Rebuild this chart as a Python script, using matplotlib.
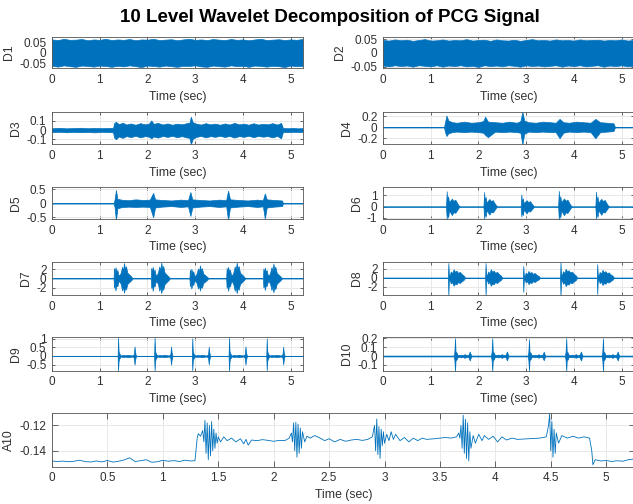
import numpy as np
import matplotlib
matplotlib.use('Agg')
import matplotlib.pyplot as plt

plt.rcParams['font.family'] = ['Liberation Sans', 'DejaVu Sans']

BLUE = '#0072BD'
T_END = 5.26

# --- D1, D2: envelope of the finest details (uniform over the record) ---
d1_hi = [0.064, 0.061, 0.067, 0.062, 0.063, 0.066, 0.060, 0.064, 0.062, 0.067,
         0.061, 0.064, 0.062, 0.066, 0.060, 0.064, 0.063, 0.067, 0.061, 0.063,
         0.065, 0.060, 0.064, 0.067, 0.062, 0.064, 0.061, 0.066, 0.063, 0.061,
         0.066, 0.062, 0.064, 0.060, 0.064, 0.067, 0.061, 0.063, 0.065, 0.061,
         0.064, 0.062, 0.066]
d1_lo = [-0.062, -0.066, -0.060, -0.064, -0.067, -0.061, -0.063, -0.066, -0.061, -0.063,
         -0.067, -0.062, -0.065, -0.060, -0.064, -0.068, -0.061, -0.063, -0.066, -0.061,
         -0.064, -0.067, -0.062, -0.063, -0.060, -0.065, -0.067, -0.061, -0.064, -0.066,
         -0.060, -0.064, -0.062, -0.067, -0.061, -0.063, -0.066, -0.062, -0.064, -0.068,
         -0.061, -0.064, -0.063]
d2_hi = [0.047, 0.045, 0.049, 0.046, 0.048, 0.044, 0.047, 0.050, 0.045, 0.046,
         0.049, 0.045, 0.047, 0.046, 0.050, 0.045, 0.047, 0.048, 0.044, 0.049,
         0.046, 0.045, 0.048, 0.044, 0.047, 0.050, 0.046, 0.047, 0.045, 0.049,
         0.046, 0.047, 0.045, 0.049, 0.046, 0.047, 0.048, 0.045, 0.047, 0.046,
         0.049, 0.045, 0.047]
d2_lo = [-0.046, -0.049, -0.045, -0.048, -0.046, -0.050, -0.045, -0.047, -0.049, -0.045,
         -0.050, -0.046, -0.048, -0.045, -0.049, -0.047, -0.051, -0.045, -0.048, -0.046,
         -0.049, -0.045, -0.047, -0.050, -0.045, -0.048, -0.046, -0.049, -0.047, -0.045,
         -0.050, -0.046, -0.048, -0.045, -0.049, -0.047, -0.045, -0.050, -0.046, -0.048,
         -0.045, -0.049, -0.047]

# --- D3, D4, D5: continuous activity between 1.3 s and 4.83 s ---
d3_t = [0, 0.15, 0.3, 0.45, 0.6, 0.75, 0.9, 1.05, 1.2, 1.28,
        1.30, 1.34, 1.40, 1.48, 1.56, 1.65, 1.75, 1.85, 1.95, 2.03,
        2.08, 2.13, 2.22, 2.32, 2.42, 2.52, 2.62, 2.72, 2.82, 2.88,
        2.91, 2.95, 3.02, 3.12, 3.22, 3.32, 3.42, 3.52, 3.62, 3.72,
        3.82, 3.92, 4.02, 4.12, 4.22, 4.32, 4.42, 4.52, 4.62, 4.72,
        4.80, 4.84, 4.95, 5.05, 5.15, 5.25]
d3_hi = [0.020, 0.024, 0.019, 0.022, 0.025, 0.020, 0.023, 0.021, 0.024, 0.022,
         0.075, 0.090, 0.065, 0.080, 0.060, 0.072, 0.058, 0.075, 0.062, 0.070,
         0.105, 0.068, 0.078, 0.060, 0.072, 0.058, 0.070, 0.062, 0.075, 0.080,
         0.145, 0.085, 0.070, 0.060, 0.075, 0.062, 0.070, 0.058, 0.072, 0.060,
         0.078, 0.062, 0.070, 0.058, 0.074, 0.060, 0.068, 0.062, 0.075, 0.060,
         0.078, 0.022, 0.020, 0.024, 0.019, 0.021]
d3_lo = [-0.022, -0.019, -0.024, -0.020, -0.023, -0.021, -0.025, -0.019, -0.022, -0.024,
         -0.080, -0.100, -0.070, -0.085, -0.065, -0.078, -0.062, -0.080, -0.066, -0.072,
         -0.090, -0.070, -0.082, -0.064, -0.075, -0.062, -0.078, -0.066, -0.080, -0.085,
         -0.155, -0.095, -0.075, -0.064, -0.080, -0.066, -0.074, -0.062, -0.076, -0.064,
         -0.082, -0.066, -0.074, -0.062, -0.078, -0.064, -0.072, -0.066, -0.080, -0.064,
         -0.090, -0.020, -0.023, -0.019, -0.022, -0.020]

d4_t = [0, 0.5, 1.0, 1.28, 1.30, 1.33, 1.37, 1.45, 1.55, 1.7,
        1.85, 2.0, 2.1, 2.14, 2.2, 2.35, 2.5, 2.65, 2.8, 2.88,
        2.92, 2.96, 3.05, 3.2, 3.35, 3.5, 3.62, 3.7, 3.78, 3.9,
        4.05, 4.2, 4.35, 4.45, 4.55, 4.7, 4.83, 4.86, 5.0, 5.25]
d4_hi = [0.006, 0.006, 0.006, 0.006, 0.09, 0.21, 0.12, 0.09, 0.08, 0.10,
         0.08, 0.09, 0.11, 0.19, 0.10, 0.09, 0.08, 0.10, 0.08, 0.11,
         0.28, 0.12, 0.09, 0.08, 0.10, 0.09, 0.08, 0.15, 0.09, 0.08,
         0.10, 0.09, 0.08, 0.15, 0.09, 0.08, 0.07, 0.006, 0.006, 0.006]
d4_lo = [-0.006, -0.006, -0.006, -0.006, -0.09, -0.16, -0.11, -0.09, -0.08, -0.09,
         -0.08, -0.09, -0.10, -0.14, -0.18, -0.08, -0.09, -0.08, -0.09, -0.10,
         -0.31, -0.12, -0.08, -0.09, -0.08, -0.09, -0.09, -0.20, -0.10, -0.08,
         -0.09, -0.08, -0.09, -0.20, -0.09, -0.08, -0.07, -0.006, -0.006, -0.006]

d5_t = [0, 0.5, 1.0, 1.29, 1.31, 1.34, 1.37, 1.45, 1.6, 1.75,
        1.9, 2.05, 2.12, 2.16, 2.3, 2.5, 2.7, 2.85, 2.9, 2.94,
        3.1, 3.3, 3.5, 3.65, 3.69, 3.73, 3.9, 4.1, 4.3, 4.42,
        4.46, 4.5, 4.65, 4.82, 4.84, 5.0, 5.25]
d5_hi = [0.01, 0.01, 0.01, 0.01, 0.12, 0.47, 0.16, 0.13, 0.11, 0.14,
         0.12, 0.13, 0.37, 0.14, 0.12, 0.10, 0.13, 0.11, 0.40, 0.14,
         0.12, 0.10, 0.13, 0.11, 0.45, 0.14, 0.12, 0.10, 0.13, 0.11,
         0.35, 0.14, 0.12, 0.10, 0.01, 0.01, 0.01]
d5_lo = [-0.01, -0.01, -0.01, -0.01, -0.12, -0.60, -0.18, -0.14, -0.12, -0.13,
         -0.12, -0.13, -0.50, -0.15, -0.12, -0.10, -0.13, -0.11, -0.45, -0.15,
         -0.12, -0.10, -0.13, -0.11, -0.60, -0.15, -0.12, -0.10, -0.13, -0.11,
         -0.55, -0.15, -0.12, -0.10, -0.01, -0.01, -0.01]

# --- D6..D10: heart-sound bursts, one envelope per beat scaled by its gain ---
d6_onset = [1.335, 2.12, 2.90, 3.685, 4.465]
d6_gain = [1.0, 0.95, 0.8, 1.02, 0.97]
d6_dt = [-0.015, 0.0, 0.01, 0.03, 0.05, 0.08, 0.11, 0.14, 0.18, 0.22, 0.25, 0.275]
d6_hi = [0.02, 1.35, 0.45, 0.9, 0.35, 0.55, 0.7, 0.5, 0.6, 0.3, 0.1, 0.02]
d6_lo = [-0.02, -1.1, -0.5, -0.95, -0.35, -0.55, -0.75, -0.5, -0.55, -0.3, -0.1, -0.02]

d7_onset = [1.30, 2.08, 2.89, 3.66, 4.43]
d7_gain = [1.0, 1.03, 0.85, 1.03, 0.97]
d7_dt = [-0.01, 0.0, 0.015, 0.03, 0.05, 0.07, 0.09, 0.11, 0.14, 0.17, 0.19, 0.21, 0.23, 0.25, 0.28, 0.32, 0.36, 0.39]
d7_hi = [0.03, 2.2, 1.2, 2.4, 1.5, 1.8, 0.8, 0.6, 1.2, 2.5, 1.6, 3.3, 2.0, 2.6, 1.2, 0.8, 0.4, 0.03]
d7_lo = [-0.03, -2.0, -1.3, -2.6, -1.5, -1.7, -0.8, -0.6, -1.2, -2.6, -1.7, -3.1, -2.0, -2.4, -1.2, -0.8, -0.4, -0.03]

d8_onset = [1.37, 2.15, 2.94, 3.72, 4.49]
d8_gain = [1.0, 1.0, 0.8, 1.05, 0.92]
d8_dt = [-0.01, 0.0, 0.01, 0.03, 0.05, 0.08, 0.11, 0.14, 0.17, 0.20, 0.24, 0.28, 0.32, 0.35]
d8_hi = [0.03, 3.3, 0.8, 0.5, 1.4, 1.0, 1.9, 1.3, 1.6, 1.1, 1.3, 0.8, 0.5, 0.03]
d8_lo = [-0.03, -4.0, -0.8, -0.5, -1.3, -1.0, -1.8, -1.3, -1.5, -1.0, -1.2, -0.8, -0.5, -0.03]

d9_onset = [1.385, 2.15, 2.94, 3.71, 4.50]
d9_gain = [1.0, 1.0, 0.97, 1.0, 0.97]
d9_dt = [-0.01, 0.0, 0.01, 0.025, 0.05, 0.06, 0.1, 0.15, 0.2, 0.25, 0.3, 0.33, 0.345, 0.355, 0.37, 0.38]
d9_hi = [0.01, 1.05, 0.3, 0.15, 0.05, 0.03, 0.06, 0.04, 0.07, 0.05, 0.03, 0.1, 0.55, 0.25, 0.05, 0.01]
d9_lo = [-0.01, -0.85, -0.3, -0.15, -0.05, -0.03, -0.06, -0.04, -0.07, -0.05, -0.03, -0.1, -0.5, -0.25, -0.05, -0.01]

d10_onset = [1.51, 2.29, 3.06, 3.84, 4.61]
d10_gain = [1.0, 1.0, 0.95, 1.0, 1.0]
d10_dt = [-0.03, -0.015, 0.0, 0.01, 0.03, 0.05, 0.08, 0.12, 0.16, 0.2, 0.24, 0.28, 0.3, 0.31, 0.32, 0.34]
d10_hi = [0.005, 0.04, 0.2, 0.05, 0.04, 0.015, 0.01, 0.015, 0.01, 0.02, 0.01, 0.015, 0.04, 0.05, 0.03, 0.005]
d10_lo = [-0.005, -0.04, -0.17, -0.05, -0.04, -0.015, -0.01, -0.015, -0.01, -0.02, -0.01, -0.015, -0.04, -0.05, -0.03, -0.005]

# --- A10 approximation (time, value) ---
a10 = np.array([
    (0.00, -0.1480), (0.05, -0.1484), (0.10, -0.1481), (0.15, -0.1486), (0.20, -0.1482),
    (0.25, -0.1474), (0.30, -0.1485), (0.35, -0.1488), (0.40, -0.1480), (0.45, -0.1487),
    (0.50, -0.1476), (0.55, -0.1489), (0.60, -0.1482), (0.65, -0.1472), (0.70, -0.1455),
    (0.75, -0.1484), (0.80, -0.1478), (0.85, -0.1470), (0.90, -0.1490), (0.95, -0.1486),
    (1.00, -0.1475), (1.05, -0.1482), (1.10, -0.1477), (1.15, -0.1484), (1.20, -0.1474),
    (1.25, -0.1480), (1.29, -0.1478),
    (1.31, -0.1300), (1.32, -0.1265), (1.34, -0.1285), (1.36, -0.1240), (1.37, -0.1330),
    (1.38, -0.1160), (1.39, -0.1420), (1.40, -0.1180), (1.41, -0.1470), (1.42, -0.1200),
    (1.43, -0.1440), (1.44, -0.1170), (1.45, -0.1400), (1.46, -0.1230), (1.47, -0.1380),
    (1.48, -0.1260), (1.49, -0.1340), (1.50, -0.1290), (1.52, -0.1330), (1.55, -0.1290),
    (1.58, -0.1320), (1.62, -0.1300), (1.66, -0.1330), (1.70, -0.1305), (1.73, -0.1345),
    (1.75, -0.1310), (1.77, -0.1355), (1.80, -0.1315), (1.85, -0.1320), (1.90, -0.1312),
    (1.95, -0.1318), (2.00, -0.1325), (2.05, -0.1318), (2.10, -0.1320), (2.14, -0.1300),
    (2.16, -0.1260), (2.17, -0.1330), (2.18, -0.1180), (2.19, -0.1400), (2.20, -0.1175),
    (2.21, -0.1450), (2.22, -0.1190), (2.23, -0.1420), (2.24, -0.1220), (2.25, -0.1380),
    (2.26, -0.1250), (2.28, -0.1330), (2.30, -0.1285), (2.33, -0.1300), (2.37, -0.1280),
    (2.42, -0.1300), (2.46, -0.1320), (2.50, -0.1305), (2.55, -0.1330), (2.60, -0.1310),
    (2.65, -0.1325), (2.70, -0.1315), (2.75, -0.1310), (2.80, -0.1318), (2.85, -0.1310),
    (2.89, -0.1290), (2.91, -0.1200), (2.92, -0.1400), (2.93, -0.1150), (2.94, -0.1430),
    (2.95, -0.1210), (2.96, -0.1460), (2.97, -0.1230), (2.98, -0.1360), (2.99, -0.1250),
    (3.00, -0.1340), (3.02, -0.1270), (3.04, -0.1320), (3.06, -0.1250), (3.08, -0.1310),
    (3.10, -0.1270), (3.14, -0.1320), (3.18, -0.1295), (3.22, -0.1330), (3.26, -0.1300),
    (3.30, -0.1320), (3.34, -0.1300), (3.38, -0.1310), (3.45, -0.1305), (3.50, -0.1300),
    (3.55, -0.1295), (3.60, -0.1300), (3.65, -0.1290),
    (3.67, -0.1260), (3.68, -0.1300), (3.69, -0.1200), (3.70, -0.1380), (3.71, -0.1120),
    (3.72, -0.1420), (3.73, -0.1150), (3.74, -0.1460), (3.75, -0.1180), (3.76, -0.1480),
    (3.77, -0.1250), (3.78, -0.1380), (3.80, -0.1280), (3.82, -0.1340), (3.85, -0.1270),
    (3.88, -0.1320), (3.90, -0.1280), (3.94, -0.1310), (3.98, -0.1285), (4.02, -0.1330),
    (4.06, -0.1290), (4.10, -0.1315), (4.15, -0.1300), (4.20, -0.1310), (4.30, -0.1305),
    (4.40, -0.1300), (4.46, -0.1290),
    (4.48, -0.1200), (4.49, -0.1110), (4.50, -0.1400), (4.51, -0.1170), (4.52, -0.1450),
    (4.53, -0.1230), (4.54, -0.1420), (4.55, -0.1260), (4.57, -0.1340), (4.60, -0.1280),
    (4.65, -0.1300), (4.70, -0.1285), (4.75, -0.1300), (4.80, -0.1290), (4.85, -0.1300),
    (4.87, -0.1400), (4.88, -0.1510), (4.90, -0.1470), (4.95, -0.1480), (5.00, -0.1476),
    (5.05, -0.1484), (5.10, -0.1478), (5.15, -0.1482), (5.20, -0.1470), (5.25, -0.1465),
])
a10_t, a10_v = a10[:, 0], a10[:, 1]


def beat_band(onsets, gains, dt, hi, lo):
    t, up, dn = [0.0], [hi[0]], [lo[0]]
    for s, g in zip(onsets, gains):
        for d, h, l in zip(dt, hi, lo):
            t.append(s + d)
            up.append(h * g)
            dn.append(l * g)
    t.append(T_END)
    up.append(hi[-1])
    dn.append(lo[-1])
    return t, up, dn


def style(ax, name, ylim, yticks, xticks=range(6), ticklen=2.5):
    ax.set_xlim(0, T_END)
    ax.set_ylim(ylim)
    ax.set_xticks(list(xticks))
    ax.set_xticklabels(['%g' % v for v in xticks])
    ax.set_yticks(yticks)
    ax.set_yticklabels(['%g' % v for v in yticks])
    ax.grid(True, color='#e4e4e4', lw=0.6)
    ax.set_axisbelow(True)
    ax.tick_params(direction='in', length=ticklen, width=0.5, labelsize=8.5,
                   colors='#303030', top=True, right=True, pad=4)
    for sp in ax.spines.values():
        sp.set_color('#555555')
        sp.set_linewidth(0.6)
    ax.set_xlabel('Time (sec)', fontsize=8.8, color='#303030', labelpad=3.5)
    ax.set_ylabel(name, fontsize=8.8, color='#303030', labelpad=3)


def band(ax, t, hi, lo):
    ax.fill_between(t, lo, hi, facecolor=BLUE, edgecolor=BLUE, linewidth=0.5)


W, H = 633, 504
fig = plt.figure(figsize=(W / 100, H / 100), dpi=100)

col_left = [52, 383]
col_w = 251
row_top = [36.7, 111.7, 187.3, 261.7, 337.3]
row_h = [31.6, 32.6, 31.7, 33.3, 33.4]


def panel(row, col):
    return fig.add_axes([col_left[col] / W, 1 - (row_top[row] + row_h[row]) / H,
                         col_w / W, row_h[row] / H])


ax = panel(0, 0)
band(ax, np.linspace(0, 5.25, len(d1_hi)), d1_hi, d1_lo)
style(ax, 'D1', (-0.074, 0.077), [-0.05, 0, 0.05])

ax = panel(0, 1)
band(ax, np.linspace(0, 5.25, len(d2_hi)), d2_hi, d2_lo)
style(ax, 'D2', (-0.056, 0.059), [-0.05, 0, 0.05])

ax = panel(1, 0)
band(ax, d3_t, d3_hi, d3_lo)
style(ax, 'D3', (-0.155, 0.2), [-0.1, 0, 0.1])

ax = panel(1, 1)
band(ax, d4_t, d4_hi, d4_lo)
style(ax, 'D4', (-0.31, 0.28), [-0.2, 0, 0.2])

ax = panel(2, 0)
band(ax, d5_t, d5_hi, d5_lo)
style(ax, 'D5', (-0.56, 0.57), [-0.5, 0, 0.5])

ax = panel(2, 1)
band(ax, *beat_band(d6_onset, d6_gain, d6_dt, d6_hi, d6_lo))
style(ax, 'D6', (-1.1, 1.7), [-1, 0, 1])

ax = panel(3, 0)
band(ax, *beat_band(d7_onset, d7_gain, d7_dt, d7_hi, d7_lo))
style(ax, 'D7', (-3.6, 3.6), [-2, 0, 2])

ax = panel(3, 1)
band(ax, *beat_band(d8_onset, d8_gain, d8_dt, d8_hi, d8_lo))
style(ax, 'D8', (-3.9, 3.6), [-2, 0, 2])

ax = panel(4, 0)
band(ax, *beat_band(d9_onset, d9_gain, d9_dt, d9_hi, d9_lo))
style(ax, 'D9', (-0.85, 1.08), [-0.5, 0, 0.5, 1])

ax = panel(4, 1)
band(ax, *beat_band(d10_onset, d10_gain, d10_dt, d10_hi, d10_lo))
style(ax, 'D10', (-0.165, 0.21), [-0.1, 0, 0.1, 0.2])

ax = fig.add_axes([52 / W, 1 - 466.7 / H, 583 / W, 54 / H])
ax.plot(a10_t, a10_v, color=BLUE, lw=0.6)
style(ax, 'A10', (-0.1525, -0.110), [-0.14, -0.12],
      xticks=[0, 0.5, 1, 1.5, 2, 2.5, 3, 3.5, 4, 4.5, 5], ticklen=4)

fig.text(329.5 / W, 1 - 17 / H, '10 Level Wavelet Decomposition of PCG Signal',
         ha='center', va='center', fontsize=13.5, fontweight='bold', color='black')

fig.savefig('out.png', dpi=100, facecolor='white')
